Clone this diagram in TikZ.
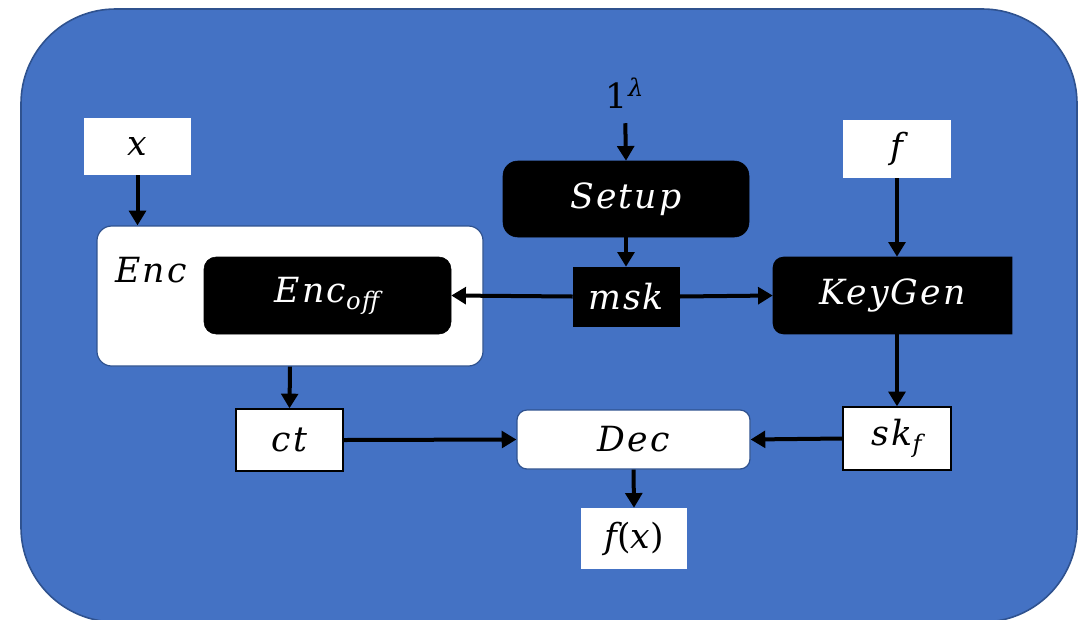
\documentclass[tikz,border=0pt]{standalone}
\usepackage{fontspec}
\newfontfamily\labfont[LetterSpace=6]{DejaVu Serif}
\usetikzlibrary{arrows.meta,backgrounds}

\definecolor{panelblue}{RGB}{68,114,196}
\definecolor{paneledge}{RGB}{47,82,143}

\newcommand{\lab}[1]{{\itshape #1}}

\tikzset{
  every node/.style={font=\labfont\fontsize{26}{30}\selectfont, inner sep=0pt},
  whitebox/.style={fill=white, draw=none},
  framebox/.style={fill=white, draw=black, line width=1pt},
  roundbox/.style={fill=white, draw=paneledge, line width=0.9pt},
  blackbox/.style={fill=black, text=white, draw=black},
  arr/.style={line width=3pt, -{Triangle[length=11pt,width=12.5pt]}},
}

\begin{document}
\begin{tikzpicture}[x=0.75pt, y=-0.75pt]
\useasboundingbox (0,0) rectangle (1085,619);

% panel
\begin{scope}[on background layer]
  \draw[fill=panelblue, draw=paneledge, line width=1.2pt, rounded corners=71pt]
    (21,9) rectangle (1077,622);
\end{scope}

% inputs
\node[whitebox, minimum width=80.25pt, minimum height=42.75pt] (xin) at (137.5,146.5) {\lab{x}};
\node[whitebox, minimum width=81pt, minimum height=43.5pt] (fin) at (897,149) {\lab{f}};
\node (lam) at (625,93) {1\textsuperscript{\itshape λ}};

% encryption
\node[roundbox, rounded corners=11pt, minimum width=289.5pt, minimum height=105pt] (enc) at (290,296) {};
\node[anchor=base west] (enclab) at (115,282) {\lab{Enc}};
\node[blackbox, rounded corners=9pt, minimum width=185.25pt, minimum height=57.75pt] (encoff) at (327.5,295.5)
  {\lab{Enc\textsubscript{off}}\hspace{7pt}};

% setup and master key
\node[blackbox, rounded corners=11pt, minimum width=184.5pt, minimum height=57pt] (setup) at (626,199) {\lab{Setup}};
\node[blackbox, minimum width=79.5pt, minimum height=44.25pt] (msk) at (626,296.5) {\lab{msk}};

% key generation
\node[text=white, minimum width=179.25pt, minimum height=57.75pt] (kg) at (892.5,295.5) {\lab{KeyGen}};
\begin{scope}[on background layer]
  \fill[black] (kg.north east) [rounded corners=8pt] -- (kg.north west) -- (kg.south west)
    [sharp corners] -- (kg.south east) -- cycle;
\end{scope}

% outputs
\node[framebox, minimum width=81pt, minimum height=47.25pt] (skf) at (897,438.5) {\lab{sk\textsubscript{f}}};
\node[framebox, minimum width=80.25pt, minimum height=46.5pt] (ct) at (289.5,440) {\lab{ct}};
\node[roundbox, rounded corners=7.5pt, minimum width=174.75pt, minimum height=44.25pt] (dec) at (633.5,439.5) {\lab{Dec}};
\node[whitebox, minimum width=79.5pt, minimum height=45.75pt] (fx) at (634,538.5) {\lab{f}(\lab{x})};

% connectors
\draw[arr] (xin.south) -- (xin.south |- enc.north);
\draw[arr, shorten <=11pt] (lam.south) -- (setup.north);
\draw[arr] (setup.south) -- (msk.north);
\draw[arr] (msk.west) -- (encoff.east);
\draw[arr] (msk.east) -- (kg.west);
\draw[arr] (fin.south) -- (fin.south |- kg.north);
\draw[arr] (skf.north |- kg.south) -- (skf.north);
\draw[arr] (enc.south) -- (ct.north);
\draw[arr] (ct.east) -- (dec.west);
\draw[arr] (skf.west) -- (dec.east);
\draw[arr] (dec.south) -- (fx.north);
\end{tikzpicture}
\end{document}
